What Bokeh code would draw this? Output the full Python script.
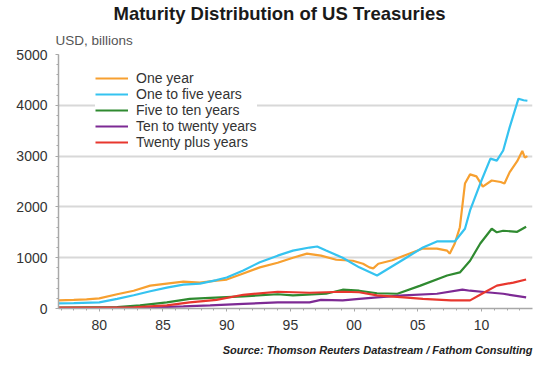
from bokeh.plotting import figure
from bokeh.models import FixedTicker, Legend, LegendItem, Range1d, Title
from bokeh.embed import file_html
from bokeh.resources import INLINE

# ---- data (USD billions) ----
one_year_x = [1976.8, 1978.0, 1979.0, 1980.0, 1981.4, 1982.7, 1984.0, 1985.3, 1986.6, 1987.9,
              1989.2, 1990.0, 1991.3, 1992.6, 1994.0, 1995.2, 1996.3, 1997.4, 1998.6, 1999.9,
              2000.7, 2001.2, 2001.5, 2001.9, 2003.0, 2003.9, 2005.4, 2006.5, 2007.3, 2007.5,
              2007.9, 2008.3, 2008.7, 2009.1, 2009.6, 2010.1, 2010.8, 2011.5, 2011.8, 2012.2,
              2012.8, 2013.2, 2013.4, 2013.6]
one_year = [160, 170, 180, 200, 280, 350, 450, 490, 530, 510,
            550, 570, 690, 810, 900, 1000, 1080, 1040, 960, 940,
            880, 810, 790, 880, 950, 1040, 1180, 1180, 1140, 1080,
            1280, 1600, 2460, 2640, 2600, 2400, 2520, 2490, 2460, 2680,
            2900, 3100, 2970, 3000]

one_five_x = [1976.8, 1978.0, 1980.0, 1981.4, 1982.7, 1984.0, 1985.3, 1986.6, 1987.9, 1989.2,
              1990.0, 1991.3, 1992.6, 1994.0, 1995.2, 1996.5, 1997.1, 1997.8, 1999.1, 2000.4,
              2001.8, 2003.9, 2005.4, 2006.5, 2007.9, 2008.7, 2009.1, 2009.9, 2010.7, 2011.2,
              2011.7, 2012.2, 2012.9, 2013.3, 2013.6]
one_five = [100, 105, 120, 190, 260, 340, 410, 470, 490, 560,
            610, 750, 910, 1040, 1140, 1200, 1220, 1140, 1000, 810,
            650, 970, 1200, 1320, 1320, 1570, 1930, 2460, 2950, 2910,
            3110, 3560, 4130, 4100, 4090]

five_ten_x = [1976.8, 1981.4, 1983.2, 1985.3, 1987.1, 1988.7, 1991.3, 1994.0, 1995.2, 1997.8,
              1999.1, 2000.4, 2001.8, 2003.4, 2005.2, 2007.3, 2008.3, 2009.1, 2009.9, 2010.8,
              2011.2, 2011.7, 2012.8, 2013.5]
five_ten = [20, 30, 60, 120, 190, 210, 240, 280, 260, 290,
            370, 350, 300, 290, 450, 650, 710, 940, 1280, 1570,
            1500, 1530, 1510, 1610]

ten_twenty_x = [1976.8, 1984.0, 1986.6, 1988.7, 1991.3, 1994.0, 1996.5, 1997.4, 1999.1, 2000.4,
                2001.8, 2003.9, 2006.5, 2008.5, 2009.1, 2010.4, 2011.7, 2013.5]
ten_twenty = [5, 20, 40, 60, 90, 120, 120, 170, 160, 190,
              220, 260, 290, 370, 350, 320, 290, 220]

twenty_plus_x = [1976.8, 1982.7, 1985.3, 1987.1, 1989.2, 1991.3, 1994.0, 1996.5, 1999.1, 2000.4,
                 2001.8, 2003.9, 2005.4, 2007.6, 2009.1, 2010.1, 2011.2, 2012.5, 2013.5]
twenty_plus = [20, 25, 60, 120, 170, 270, 330, 310, 330, 320,
               260, 220, 190, 160, 160, 300, 450, 510, 570]

series_names = ["One year", "One to five years", "Five to ten years",
                "Ten to twenty years", "Twenty plus years"]
series_x = [one_year_x, one_five_x, five_ten_x, ten_twenty_x, twenty_plus_x]
series_y = [one_year, one_five, five_ten, ten_twenty, twenty_plus]
colors = ["#f7a030", "#35c3f0", "#2f8a30", "#7d2a94", "#e8372e"]

year_ticks = [1980, 1985, 1990, 1995, 2000, 2005, 2010]
year_labels = ["80", "85", "90", "95", "00", "05", "10"]
value_ticks = [0, 1000, 2000, 3000, 4000, 5000]

title_text = "Maturity Distribution of US Treasuries"
unit_text = "USD, billions"
source_text = "Source: Thomson Reuters Datastream / Fathom Consulting"

X0, X1 = 1976.8, 2014.0

p = figure(width=542, height=366, output_backend="svg", toolbar_location=None,
           x_range=Range1d(X0, X1), y_range=Range1d(0, 5000),
           min_border_left=58, min_border_right=10, min_border_top=54, min_border_bottom=58)
p.outline_line_color = None
p.background_fill_color = "white"
p.border_fill_color = "white"

renderers = []
for xs, ys, c in zip(series_x, series_y, colors):
    r = p.line(xs, ys, line_color=c, line_width=2.2)
    renderers.append(r)

# axes
p.xaxis.ticker = FixedTicker(ticks=year_ticks, minor_ticks=list(range(1977, 2014)))
p.xaxis.major_label_overrides = {t: l for t, l in zip(year_ticks, year_labels)}
p.yaxis.ticker = FixedTicker(ticks=value_ticks, minor_ticks=list(range(0, 5001, 200)))
for ax in (p.xaxis[0], p.yaxis[0]):
    ax.axis_line_color = "#a8a8a8"
    ax.axis_line_width = 1.5
    ax.major_tick_line_color = "#a8a8a8"
    ax.minor_tick_line_color = "#a8a8a8"
    ax.major_tick_out = 3
    ax.major_tick_in = 0
    ax.minor_tick_out = 2
    ax.minor_tick_in = 0
    ax.major_label_text_font = "Liberation Sans"
    ax.major_label_text_font_size = "14px"
    ax.major_label_text_color = "#333333"
p.xaxis.major_label_standoff = 8
p.yaxis.major_label_standoff = 8

p.xgrid.grid_line_color = None
p.ygrid.grid_line_color = "#d8d8d8"
p.ygrid.grid_line_width = 2

# legend
items = [LegendItem(label=n, renderers=[r]) for n, r in zip(series_names, renderers)]
legend = Legend(items=items, location=(37, 158), padding=4, margin=0, spacing=0,
                glyph_width=33, glyph_height=16, label_height=16, label_standoff=8,
                label_text_font="Liberation Sans", label_text_font_size="14px",
                label_text_color="#333333", border_line_color=None,
                background_fill_color="white", background_fill_alpha=1.0)
p.add_layout(legend, "center")

# texts (titles: first added sits closest to the frame)
p.add_layout(Title(text=unit_text, align="left", offset=-3, standoff=14,
                   text_font="Liberation Sans", text_font_style="normal",
                   text_font_size="13.5px", text_color="#555555"), "above")
p.add_layout(Title(text=title_text, align="left", offset=55, standoff=0,
                   text_font="Liberation Sans", text_font_style="bold",
                   text_font_size="18.5px", text_color="#1a1a1a"), "above")
p.add_layout(Title(text=source_text, align="right", offset=0, standoff=18,
                   text_font="Liberation Sans", text_font_style="bold italic",
                   text_font_size="11px", text_color="#222222"), "below")

open("out.html", "w").write(file_html(p, INLINE))
